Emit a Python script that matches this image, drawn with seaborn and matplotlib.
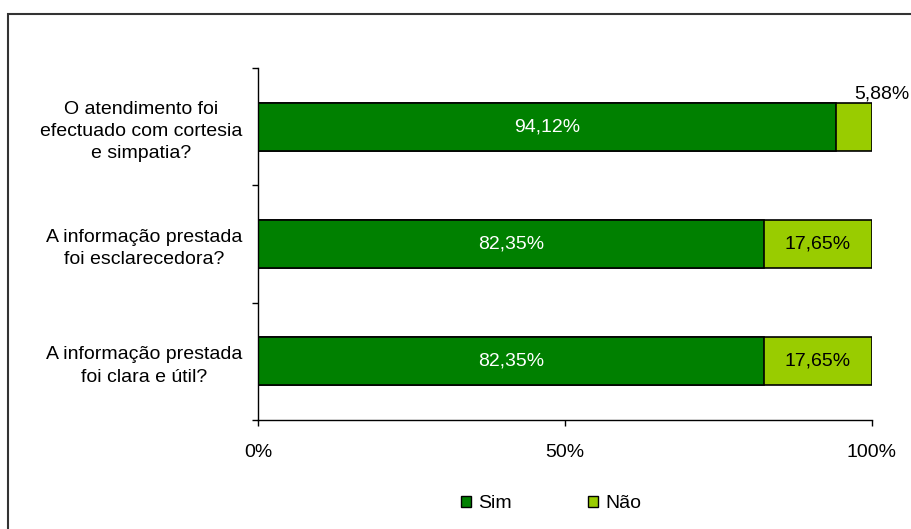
import matplotlib
matplotlib.use("Agg")
import matplotlib.pyplot as plt
import seaborn as sns
import pandas as pd
from matplotlib.patches import Rectangle, Patch

# data
questions = [
    "O atendimento foi\nefectuado com cortesia\ne simpatia?",
    "A informação prestada\nfoi esclarecedora?",
    "A informação prestada\nfoi clara e útil?",
]
sim = [94.12, 82.35, 82.35]
nao = [5.88, 17.65, 17.65]
x_ticks = [0, 50, 100]
x_labels = ["0%", "50%", "100%"]

c_sim = "#008000"
c_nao = "#99CC00"
fs = 14

sns.set_theme(style="white")
plt.rcParams["font.family"] = ["Liberation Sans", "DejaVu Sans"]
plt.rcParams["text.color"] = "black"

df = pd.DataFrame({"q": questions, "sim": sim, "nao": nao})
df["total"] = df["sim"] + df["nao"]

fig = plt.figure(figsize=(9.12, 5.29), dpi=100)
ax = fig.add_axes([258 / 912, 109 / 529, 614 / 912, 352 / 529])

# stacked bars: full length in Não colour, Sim drawn on top
sns.barplot(data=df, y="q", x="total", color=c_nao, orient="h", width=0.41,
            edgecolor="black", linewidth=1.2, saturation=1, ax=ax)
sns.barplot(data=df, y="q", x="sim", color=c_sim, orient="h", width=0.41,
            edgecolor="black", linewidth=1.2, saturation=1, ax=ax)

ax.set_xlim(0, 100)
ax.set_ylim(2.5, -0.5)
ax.set_xlabel("")
ax.set_ylabel("")
ax.set_xticks(x_ticks)
ax.set_xticklabels(x_labels, fontsize=fs, color="black")
ax.set_yticks(range(len(questions)))
ax.set_yticklabels(questions, fontsize=fs, linespacing=1.4,
                   multialignment="center", color="black")
ax.set_yticks([-0.5, 0.5, 1.5, 2.5], minor=True)

for s in ["top", "right"]:
    ax.spines[s].set_visible(False)
for s in ["left", "bottom"]:
    ax.spines[s].set_color("black")
    ax.spines[s].set_linewidth(1.0)

ax.tick_params(axis="y", which="major", length=0, pad=11)
ax.tick_params(axis="y", which="minor", left=True, length=4.5, width=1, color="black")
ax.tick_params(axis="x", which="major", bottom=True, length=4, width=1,
               color="black", pad=13)

for i, (s_val, n_val) in enumerate(zip(sim, nao)):
    ax.text(s_val / 2, i, f"{s_val:.2f}%".replace(".", ","), color="white",
            ha="center", va="center", fontsize=fs)
    if n_val < 10:
        # small segment: label sits above the bar end
        ax.text(s_val + n_val / 2 + 4.6, i - 0.21, f"{n_val:.2f}%".replace(".", ","),
                color="black", ha="center", va="bottom", fontsize=fs)
    else:
        ax.text(s_val + n_val / 2, i, f"{n_val:.2f}%".replace(".", ","),
                color="black", ha="center", va="center", fontsize=fs)

handles = [Patch(facecolor=c_sim, edgecolor="black", label="Sim"),
           Patch(facecolor=c_nao, edgecolor="black", label="Não")]
fig.legend(handles=handles, loc="center", bbox_to_anchor=(551 / 912, 1 - 504 / 529),
           ncol=2, frameon=False, fontsize=fs, handlelength=0.55, handleheight=0.55,
           handletextpad=0.35, columnspacing=3.9, borderpad=0, borderaxespad=0)

# outer frame of the chart area
fig.patches.append(Rectangle((8 / 912, -0.1), 1.2, 0.1 + (529 - 14) / 529,
                             transform=fig.transFigure, fill=False,
                             edgecolor="#333333", linewidth=1.5))

fig.savefig("out.png", dpi=100)
